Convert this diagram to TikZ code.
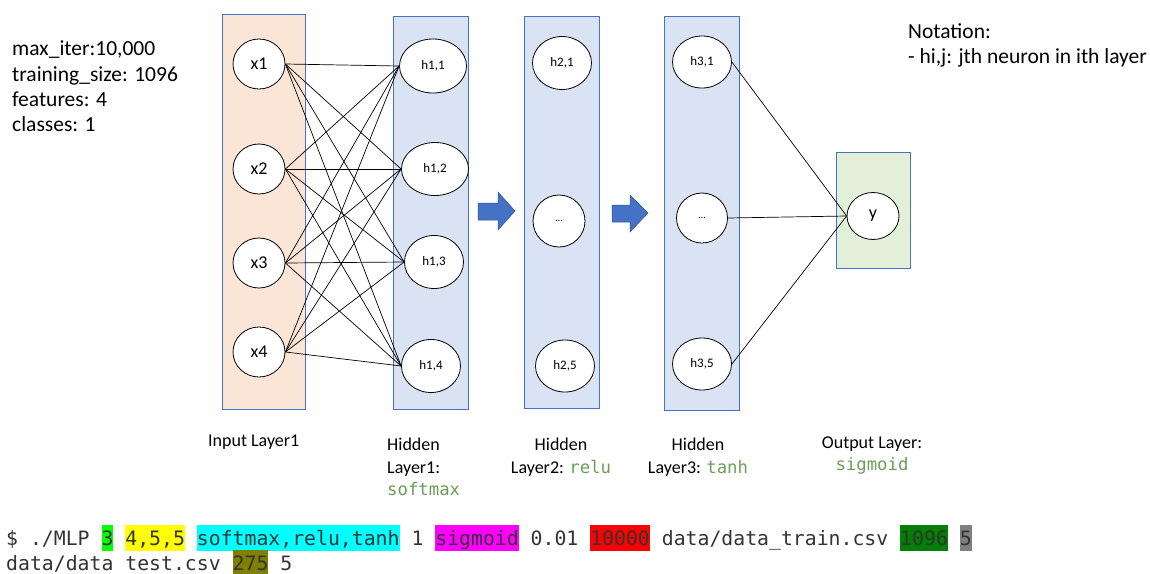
\documentclass[tikz,border=0pt]{standalone}
\usepackage{fontspec}
\setmainfont{Carlito}
\newfontfamily\monofont{DejaVu Sans Mono}
\usetikzlibrary{shapes.geometric}
\definecolor{inputfill}{HTML}{FBE5D6}
\definecolor{hidfill}{HTML}{DAE3F3}
\definecolor{outfill}{HTML}{E2F0D9}
\definecolor{boxline}{HTML}{4472C4}
\definecolor{arrowfill}{HTML}{4472C4}
\definecolor{arrowline}{HTML}{2F528F}
\definecolor{codegreen}{HTML}{6A9F58}
\definecolor{cmdtext}{HTML}{333333}
\definecolor{hlgreen}{HTML}{00FF00}
\definecolor{hlyellow}{HTML}{FFFF00}
\definecolor{hlcyan}{HTML}{00FFFF}
\definecolor{hlmagenta}{HTML}{FF00FF}
\definecolor{hlred}{HTML}{FF0000}
\definecolor{hldkgreen}{HTML}{008000}
\definecolor{hlgray}{HTML}{808080}
\definecolor{hlolive}{HTML}{808000}
\newcommand\hlbox[2]{{\setlength\fboxsep{0pt}\colorbox{#1}{\rule[-6pt]{0pt}{26pt}#2}}}
\newcommand\greencode[1]{{\monofont\fontsize{17.3}{20}\selectfont\color{codegreen}#1}}
\begin{document}
\begin{tikzpicture}[x=1pt,y=-1pt,
  layerbox/.style={draw=boxline,line width=0.9pt},
  neuron/.style={draw=black,line width=0.8pt,fill=white,ellipse,inner sep=0pt},
  inneuron/.style={neuron,minimum width=52,minimum height=50,font=\fontsize{18}{20}\selectfont},
  hneuron/.style={neuron,font=\fontsize{13}{15}\selectfont},
  edge/.style={line width=0.7pt,draw=black},
  infotext/.style={anchor=base west,inner sep=0pt,font=\fontsize{21.5}{25}\selectfont},
  labeltext/.style={inner sep=0pt,font=\fontsize{18}{22}\selectfont},
  cmdline/.style={anchor=base west,inner sep=0pt,text=cmdtext,font=\monofont\fontsize{19.8}{25}\selectfont},
  blockarrow/.style={fill=arrowfill,draw=arrowline,line width=0.5pt}
]
\useasboundingbox (0,0) rectangle (1150,573);

% layer boxes
\filldraw[layerbox,fill=inputfill] (222,14) rectangle (305,409);
\filldraw[layerbox,fill=hidfill] (393,16) rectangle (468,409);
\filldraw[layerbox,fill=hidfill] (524,16) rectangle (599,408);
\filldraw[layerbox,fill=hidfill] (664,16) rectangle (739,410);
\filldraw[layerbox,fill=outfill] (836,152) rectangle (910,268);

% input neurons
\node[inneuron] (x1) at (259,64) {x1};
\node[inneuron] (x2) at (259,169) {x2};
\node[inneuron] (x3) at (259,263) {x3};
\node[inneuron] (x4) at (259,352) {x4};

% hidden layer 1
\node[hneuron,minimum width=67,minimum height=54] (h11) at (433,66) {h1,1};
\node[hneuron,minimum width=67,minimum height=53] (h12) at (435,169) {h1,2};
\node[hneuron,minimum width=59,minimum height=53] (h13) at (434,262) {h1,3};
\node[hneuron,minimum width=59,minimum height=53] (h14) at (431,366) {h1,4};

% hidden layer 2
\node[hneuron,minimum width=59,minimum height=53] (h21) at (562,63) {h2,1};
\node[hneuron,minimum width=52,minimum height=52,font=\fontsize{10}{12}\selectfont] (h2d) at (559,221) {…};
\node[hneuron,minimum width=59,minimum height=52] (h25) at (565,366) {h2,5};

% hidden layer 3
\node[hneuron,minimum width=59,minimum height=52] (h31) at (702,62) {h3,1};
\node[hneuron,minimum width=51,minimum height=50,font=\fontsize{10}{12}\selectfont] (h3d) at (702,218) {…};
\node[hneuron,minimum width=59,minimum height=52] (h35) at (702,364) {h3,5};

% output
\node[inneuron,minimum width=52,minimum height=47] (y) at (873,216) {y};

% edges input -> hidden 1
\foreach \i in {1,2,3,4}{
  \foreach \j in {1,2,3,4}{
    \draw[edge] (x\i.east) -- (h1\j.west);
  }
}
% edges hidden 3 -> output
\draw[edge] (h31.east) -- (y.west);
\draw[edge] (h3d.east) -- (y.west);
\draw[edge] (h35.east) -- (y.west);

% block arrows
\filldraw[blockarrow] (478,203) -- (498,203) -- (498,192) -- (515,211) -- (498,230) -- (498,220) -- (478,220) -- cycle;
\filldraw[blockarrow] (612,205) -- (630,205) -- (630,195) -- (648,213) -- (630,232) -- (630,222) -- (612,222) -- cycle;

% info text
\node[infotext] (info1) at (12,55) {max\_iter:10,000};
\node[infotext] (info2) at (12,81) {training\_size: 1096};
\node[infotext] (info3) at (12,106) {features: 4};
\node[infotext] (info4) at (12,131) {classes: 1};

\node[infotext] (nota1) at (908,38) {Notation:};
\node[infotext] (nota2) at (908,63) {- hi,j: jth neuron in ith layer};

% layer labels
\node[labeltext,anchor=base west] (lin) at (208,446) {Input Layer1};
\node[labeltext,anchor=base west] (lh1a) at (387,450) {Hidden};
\node[labeltext,anchor=base west] (lh1b) at (387,473) {Layer1:};
\node[labeltext,anchor=base west] (lh1c) at (387,495) {\greencode{softmax}};
\node[labeltext,anchor=base] (lh2a) at (561,450) {Hidden};
\node[labeltext,anchor=base] (lh2b) at (561,473) {Layer2: \greencode{relu}};
\node[labeltext,anchor=base] (lh3a) at (698,450) {Hidden};
\node[labeltext,anchor=base] (lh3b) at (698,473) {Layer3: \greencode{tanh}};
\node[labeltext,anchor=base] (lout1) at (872,448) {Output Layer:};
\node[labeltext,anchor=base] (lout2) at (872,470) {\greencode{sigmoid}};

% command line
\node[cmdline] (cmd1) at (6,545) {\$ ./MLP \hlbox{hlgreen}{3} \hlbox{hlyellow}{4,5,5} \hlbox{hlcyan}{softmax,relu,tanh} 1 \hlbox{hlmagenta}{sigmoid} 0.01 \hlbox{hlred}{10000} data/data\_train.csv \hlbox{hldkgreen}{1096} \hlbox{hlgray}{5}};
\node[cmdline] (cmd2) at (6,570) {data/data test.csv \hlbox{hlolive}{275} 5};
\end{tikzpicture}
\end{document}
